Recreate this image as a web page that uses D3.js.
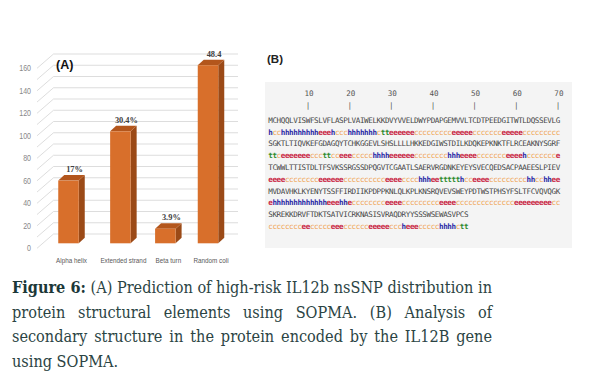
<!DOCTYPE html>
<html>
<head>
<meta charset="utf-8">
<script src="https://cdn.jsdelivr.net/npm/d3@7"></script>
<style>
  body { margin: 0; background: #fff; }
  svg { display: block; }
</style>
</head>
<body>
<svg width="606" height="384"></svg>
<script>
// panel A data: SOPMA counts (328 residues)
var categories = ["Alpha helix", "Extended strand", "Beta turn", "Random coli"];
var counts = [56, 100, 13, 159];
var pctLabels = ["17%", "30.4%", "3.9%", "48.4"];
var yTicks = [0, 20, 40, 60, 80, 100, 120, 140, 160];

// panel B data: sequence and predicted states
var rulerPos = [10, 20, 30, 40, 50, 60, 70];
var seqLines = [
  "MCHQQLVISWFSLVFLASPLVAIWELKKDVYVVELDWYPDAPGEMVVLTCDTPEEDGITWTLDQSSEVLG",
  "SGKTLTIQVKEFGDAGQYTCHKGGEVLSHSLLLLHKKEDGIWSTDILKDQKEPKNKTFLRCEAKNYSGRF",
  "TCWWLTTISTDLTFSVKSSRGSSDPQGVTCGAATLSAERVRGDNKEYEYSVECQEDSACPAAEESLPIEV",
  "MVDAVHKLKYENYTSSFFIRDIIKPDPPKNLQLKPLKNSRQVEVSWEYPDTWSTPHSYFSLTFCVQVQGK",
  "SKREKKDRVFTDKTSATVICRKNASISVRAQDRYYSSSWSEWASVPCS"
];
var structLines = [
  "hcc" + "hhhhhhhhh" + "eeeh" + "ccc" + "hhhhhhh" + "ctt" + "eeeeee" + "ccccccccc" + "eeeee" + "ccccccc" + "eeeee" + "ccccccccc",
  "ttc" + "eeeeeee" + "ccctt" + "cc" + "eee" + "ccccc" + "hhhh" + "eeeeee" + "cccccccc" + "hhh" + "eeee" + "ccccccc" + "eeeeh" + "ccccccce",
  "eeee" + "cccccccc" + "eeeeee" + "cccccccccc" + "eeee" + "cccc" + "hhhee" + "ttttth" + "cc" + "eeee" + "ccccccccc" + "hhcc" + "hhee",
  "e" + "hhhhhhhhhhhhh" + "eeehhe" + "cccccccc" + "eeee" + "ccccccccc" + "eeee" + "cccccccccccccc" + "eeeeeeeee" + "cc",
  "cccccccc" + "ee" + "ccccc" + "eee" + "cccccc" + "eeeee" + "ccc" + "heee" + "ccccc" + "hhhh" + "ctt"
];

var captionBold = "Figure 6:";
var captionLines = [
  " (A) Prediction of high-risk IL12b nsSNP distribution in",
  "protein structural elements using SOPMA. (B) Analysis of",
  "secondary structure in the protein encoded by the IL12B gene",
  "using SOPMA."
];

var svg = d3.select("svg");

// squeeze a text element horizontally (the original uses a narrow font)
function condense(sel, k) {
  sel.each(function() {
    var w = this.getComputedTextLength();
    d3.select(this).attr("textLength", w * k).attr("lengthAdjust", "spacingAndGlyphs");
  });
}

// -----------------------------------------------------------------------------
// Panel A: 3D-style column chart
// -----------------------------------------------------------------------------

var yAxisScale = d3.scaleLinear().domain([0, 160]).range([248.3, 68.3]),
    yFront = d3.scaleLinear().domain([0, 160]).range([243.3, 64.1]),
    // columns shrink a little to the right (perspective of the original)
    x = d3.scalePow().exponent(0.9).domain([0, categories.length - 1]).range([68.5, 208]);

var barW = 20.5, dx = 6, dy = 5.5,
    wallLeft = 37, wallDx = 16.5, wallDy = 14.3, wallRight = 238;

var chartA = svg.append("g").attr("class", "panel-a");

var grid = chartA.append("g").attr("class", "grid")
    .attr("stroke", "#d4d4d4").attr("stroke-width", 0.8).attr("fill", "none");

d3.range(0, 161, 10).forEach(function(v) {
  var y0 = yAxisScale(v);
  grid.append("path")
      .attr("d", "M" + wallLeft + "," + y0 +
                 "L" + (wallLeft + wallDx) + "," + (y0 - wallDy) +
                 "L" + wallRight + "," + (y0 - wallDy));
});

var yAxis = d3.axisLeft(yAxisScale).tickValues(yTicks).tickSize(0).tickPadding(0);
chartA.append("g")
    .attr("class", "axis axis--y")
    .attr("transform", "translate(31,0)")
    .call(yAxis)
    .call(function(g) { g.select(".domain").remove(); })
    .selectAll("text")
      .attr("font-family", "'Liberation Sans', sans-serif")
      .attr("font-size", 8.2)
      .attr("fill", "#888")
      .call(condense, 0.86);

var bars = chartA.selectAll(".bar")
    .data(counts)
  .enter().append("g")
    .attr("class", "bar");

bars.append("path")   // right side
    .attr("fill", "#9b4a17")
    .attr("d", function(d, i) {
      var x1 = x(i) + barW / 2, yt = yFront(d), yb = yFront(0);
      return "M" + x1 + "," + yb + "L" + (x1 + dx) + "," + (yb - dy) +
             "L" + (x1 + dx) + "," + (yt - dy) + "L" + x1 + "," + yt + "Z";
    });

bars.append("path")   // top
    .attr("fill", "#b3561c")
    .attr("d", function(d, i) {
      var x0 = x(i) - barW / 2, x1 = x(i) + barW / 2, yt = yFront(d);
      return "M" + x0 + "," + yt + "L" + (x0 + dx) + "," + (yt - dy) +
             "L" + (x1 + dx) + "," + (yt - dy) + "L" + x1 + "," + yt + "Z";
    });

bars.append("rect")   // front
    .attr("fill", "#d86f2b")
    .attr("x", function(d, i) { return x(i) - barW / 2; })
    .attr("y", function(d) { return yFront(d); })
    .attr("width", barW)
    .attr("height", function(d) { return yFront(0) - yFront(d); });

chartA.selectAll(".pct")
    .data(pctLabels)
  .enter().append("text")
    .attr("class", "pct")
    .attr("x", function(d, i) { return x(i) + 6; })
    .attr("y", function(d, i) { return yFront(counts[i]) - 8.5; })
    .attr("text-anchor", "middle")
    .attr("font-family", "'Liberation Serif', serif")
    .attr("font-weight", "bold")
    .attr("font-size", 8.4)
    .attr("fill", "#404040")
    .text(function(d) { return d; });

chartA.selectAll(".cat")
    .data(categories)
  .enter().append("text")
    .attr("class", "cat")
    .attr("x", function(d, i) { return x(i) + 3; })
    .attr("y", 263)
    .attr("text-anchor", "middle")
    .attr("font-family", "'Liberation Sans', sans-serif")
    .attr("font-size", 8)
    .attr("fill", "#595959")
    .text(function(d) { return d; })
    .call(condense, 0.79);

chartA.append("text")
    .attr("x", 56).attr("y", 69)
    .attr("font-family", "'Liberation Sans', sans-serif")
    .attr("font-weight", "bold")
    .attr("font-size", 12.5)
    .attr("fill", "#111")
    .text("(A)");

// -----------------------------------------------------------------------------
// Panel B: SOPMA sequence / secondary structure text
// -----------------------------------------------------------------------------

var chartB = svg.append("g").attr("class", "panel-b");

chartB.append("text")
    .attr("x", 267).attr("y", 63)
    .attr("font-family", "'Liberation Sans', sans-serif")
    .attr("font-weight", "bold")
    .attr("font-size", 11.5)
    .attr("fill", "#222")
    .text("(B)");

chartB.append("rect")
    .attr("x", 265).attr("y", 82)
    .attr("width", 307).attr("height", 166)
    .attr("fill", "#f4f4f4");

var col = d3.scaleLinear().domain([0, 70]).range([268.5, 560]);
var row = d3.scaleLinear().domain([0, 9]).range([122.8, 229]);
var stateColor = { h: "#2b2ba6", e: "#c8233f", c: "#f0a658", t: "#2e8b2e" };
var mono = "'DejaVu Sans Mono', monospace", monoSize = 7.6;

chartB.selectAll(".ruler-num")
    .data(rulerPos)
  .enter().append("text")
    .attr("x", function(d) { return col(d - 0.5) + 1; })
    .attr("y", 95.5)
    .attr("text-anchor", "middle")
    .attr("font-family", mono).attr("font-size", monoSize)
    .attr("fill", "#555")
    .text(function(d) { return d; });

chartB.selectAll(".ruler-tick")
    .data(rulerPos)
  .enter().append("text")
    .attr("x", function(d) { return col(d - 0.5); })
    .attr("y", 107.5)
    .attr("text-anchor", "middle")
    .attr("font-family", mono).attr("font-size", monoSize)
    .attr("fill", "#555")
    .text("|");

seqLines.forEach(function(s, k) {
  chartB.append("g").selectAll("text")
      .data(s.split(""))
    .enter().append("text")
      .attr("x", function(d, i) { return col(i + 0.5); })
      .attr("y", row(2 * k))
      .attr("text-anchor", "middle")
      .attr("font-family", mono).attr("font-size", monoSize)
      .attr("fill", "#444")
      .text(function(d) { return d; });

  chartB.append("g").selectAll("text")
      .data(structLines[k].split(""))
    .enter().append("text")
      .attr("x", function(d, i) { return col(i + 0.5); })
      .attr("y", row(2 * k + 1))
      .attr("text-anchor", "middle")
      .attr("font-family", mono).attr("font-size", monoSize)
      .attr("font-weight", function(d) { return d === "c" ? "normal" : "bold"; })
      .attr("fill", function(d) { return stateColor[d]; })
      .text(function(d) { return d; });
});

// -----------------------------------------------------------------------------
// Caption (justified)
// -----------------------------------------------------------------------------

var capLeft = 12, capRight = 492, baseFont = 17;
var capBase = d3.scaleLinear().domain([0, 3]).range([293, 367]);

var caption = svg.append("g").attr("class", "caption")
    .attr("font-family", "'DejaVu Serif', serif")
    .attr("font-stretch", "condensed")
    .attr("fill", "#2b4444");

var lines = captionLines.map(function(t, i) {
  var el = caption.append("text")
      .attr("x", capLeft)
      .attr("y", capBase(i))
      .attr("font-size", baseFont);
  if (i === 0) {
    el.append("tspan").attr("font-weight", "bold").attr("fill", "#1c3838").text(captionBold);
  }
  el.append("tspan").text(t);
  return el;
});

// fit first line to the column width, then spread the justified lines
var w0 = lines[0].node().getComputedTextLength();
var fs = baseFont * (capRight - capLeft) / w0;
lines.forEach(function(el, i) {
  el.attr("font-size", fs);
  if (i === lines.length - 1) return;
  var w = el.node().getComputedTextLength(),
      gaps = el.text().split(" ").length - 1;
  if (gaps > 0 && w < capRight - capLeft) {
    el.attr("word-spacing", ((capRight - capLeft - w) / gaps) + "px");
  }
});
</script>
</body>
</html>
